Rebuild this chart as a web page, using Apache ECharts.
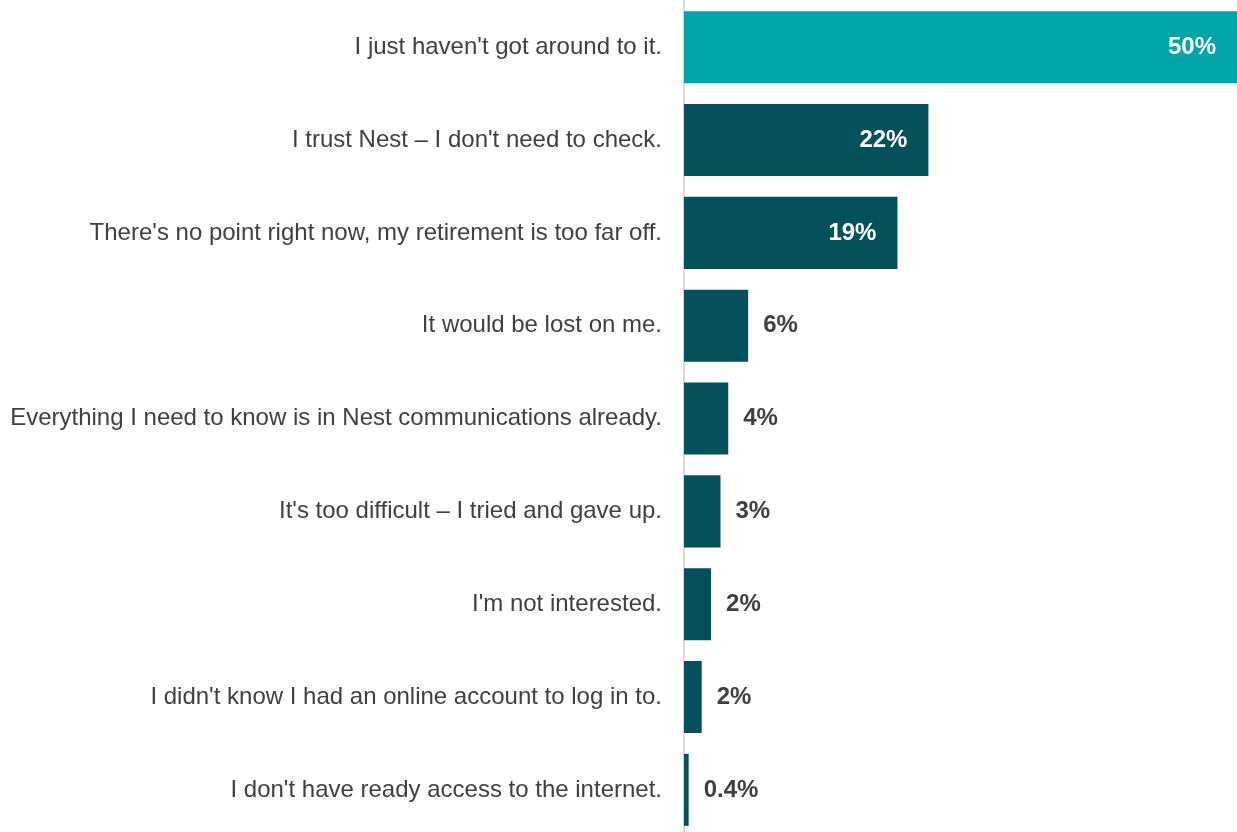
<!DOCTYPE html>
<html>
<head>
<meta charset="utf-8">
<script src="https://cdn.jsdelivr.net/npm/echarts@6/dist/echarts.min.js"></script>
<style>
  html, body { margin: 0; padding: 0; background: #ffffff; overflow: hidden; }
  #chart { width: 1237px; height: 837px; }
</style>
</head>
<body>
<div id="chart"></div>
<script>
// Reasons given for not logging in to check the pension account (% of respondents)
const reasons = [
  "I just haven't got around to it.",
  "I trust Nest \u2013 I don't need to check.",
  "There's no point right now, my retirement is too far off.",
  "It would be lost on me.",
  "Everything I need to know is in Nest communications already.",
  "It's too difficult \u2013 I tried and gave up.",
  "I'm not interested.",
  "I didn't know I had an online account to log in to.",
  "I don't have ready access to the internet."
];
const shares = [50, 22.1, 19.3, 5.8, 4.0, 3.3, 2.45, 1.6, 0.42];

const HIGHLIGHT = '#00a5a8';
const BASE = '#04505b';
const TEXT = '#404040';

function pct(v) {
  return (v < 1 ? v.toFixed(1) : String(Math.round(v))) + '%';
}

const barData = shares.map((v, i) => ({
  value: v,
  itemStyle: { color: i === 0 ? HIGHLIGHT : BASE },
  label: v > 10
    ? { position: 'insideRight', color: '#ffffff', distance: 21 }
    : { position: 'right', color: TEXT, distance: 15 }
}));

const chart = echarts.init(document.getElementById('chart'), null, { renderer: 'canvas' });
chart.setOption({
  animation: false,
  backgroundColor: '#ffffff',
  grid: { left: 684, right: 0, top: 0.8, height: 835.5, containLabel: false },
  xAxis: {
    type: 'value',
    min: 0,
    max: 50,
    show: false
  },
  yAxis: {
    type: 'category',
    data: reasons,
    inverse: true,
    axisLine: { show: true, lineStyle: { color: '#d9d9d9', width: 2 } },
    axisTick: { show: false },
    axisLabel: {
      margin: 22,
      color: TEXT,
      fontSize: 24,
      fontFamily: '"Liberation Sans", Arial, sans-serif'
    }
  },
  series: [{
    type: 'bar',
    data: barData,
    barCategoryGap: '22.4%',
    label: {
      show: true,
      fontSize: 24,
      fontWeight: 'bold',
      fontFamily: '"Liberation Sans", Arial, sans-serif',
      formatter: p => pct(p.value)
    }
  }]
});
</script>
</body>
</html>
